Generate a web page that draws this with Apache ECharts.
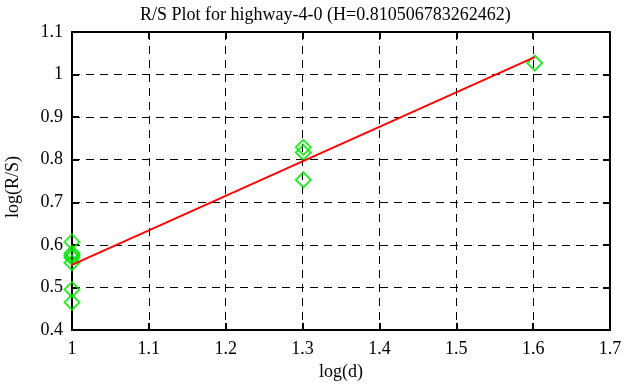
<!DOCTYPE html>
<html><head><meta charset="utf-8">
<script src="https://cdn.jsdelivr.net/npm/echarts@6/dist/echarts.min.js"></script>
<style>html,body{margin:0;padding:0;background:#fff}#c{width:626px;height:387px}</style>
</head><body><div id="c"></div>
<script>
const titleText = 'R/S Plot for highway-4-0 (H=0.810506783262462)';
const pointsX = [1, 1, 1, 1, 1, 1, 1, 1.30103, 1.30103, 1.30103, 1.60206];
const pointsY = [0.607, 0.58, 0.575, 0.57, 0.558, 0.495, 0.465, 0.829, 0.817, 0.753, 1.027];
const fitX = [1, 1.60206];
const fitY = [0.553, 1.041];
const xTicks = [1, 1.1, 1.2, 1.3, 1.4, 1.5, 1.6, 1.7];
const yTicks = [0.4, 0.5, 0.6, 0.7, 0.8, 0.9, 1, 1.1];

const font = 'Liberation Serif, Times New Roman, serif';
const fs = 18;
const chart = echarts.init(document.getElementById('c'));
const axisCommon = {
  axisLine: {show: true, onZero: false, lineStyle: {color: '#000', width: 2}},
  axisTick: {show: true, inside: true, length: 7, lineStyle: {color: '#000', width: 2}},
  splitLine: {show: false}
};
const fmt = v => String(parseFloat(v.toFixed(2)));
chart.setOption({
  animation: false,
  backgroundColor: '#fff',
  title: {text: titleText, left: 135, top: 1,
    textStyle: {fontFamily: font, fontWeight: 'normal', fontSize: fs, color: '#000'}},
  grid: {left: 72, right: 16, top: 32, bottom: 57, containLabel: false, outerBoundsMode: 'none'},
  xAxis: [{
    type: 'value', min: 1, max: 1.7, interval: 0.1, position: 'bottom',
    name: 'log(d)', nameLocation: 'middle', nameGap: 33,
    nameTextStyle: {fontFamily: font, fontSize: fs, color: '#000'},
    axisLabel: {fontFamily: font, fontSize: fs, color: '#000', margin: 10,
      formatter: v => xTicks.includes(+v.toFixed(2)) ? fmt(v) : ''},
    ...axisCommon,
    splitLine: {show: true, lineStyle: {color: '#000', type: [8, 6], width: 1}}
  }, {
    type: 'value', min: 1, max: 1.7, interval: 0.1, position: 'top',
    axisLabel: {show: false}, ...axisCommon
  }],
  yAxis: [{
    type: 'value', min: 0.4, max: 1.1, interval: 0.1, position: 'left',
    name: 'log(R/S)', nameLocation: 'middle', nameGap: 50, nameRotate: 90,
    nameTextStyle: {fontFamily: font, fontSize: fs, color: '#000', padding: [0, 12, 0, 0]},
    axisLabel: {fontFamily: font, fontSize: fs, color: '#000', margin: 9,
      formatter: v => yTicks.includes(+v.toFixed(2)) ? fmt(v) : ''},
    ...axisCommon,
    splitLine: {show: true, lineStyle: {color: '#000', type: [8, 6], width: 1}}
  }, {
    type: 'value', min: 0.4, max: 1.1, interval: 0.1, position: 'right',
    axisLabel: {show: false}, ...axisCommon
  }],
  series: [{
    type: 'scatter',
    data: pointsX.map((x, i) => [x, pointsY[i]]),
    symbol: 'diamond', symbolSize: 15,
    itemStyle: {color: 'rgba(0,0,0,0)', borderColor: '#00e000', borderWidth: 2},
    z: 3
  }, {
    type: 'line',
    data: fitX.map((x, i) => [x, fitY[i]]),
    showSymbol: false, symbol: 'none',
    lineStyle: {color: '#ff0000', width: 2},
    z: 4
  }]
});
</script></body></html>
